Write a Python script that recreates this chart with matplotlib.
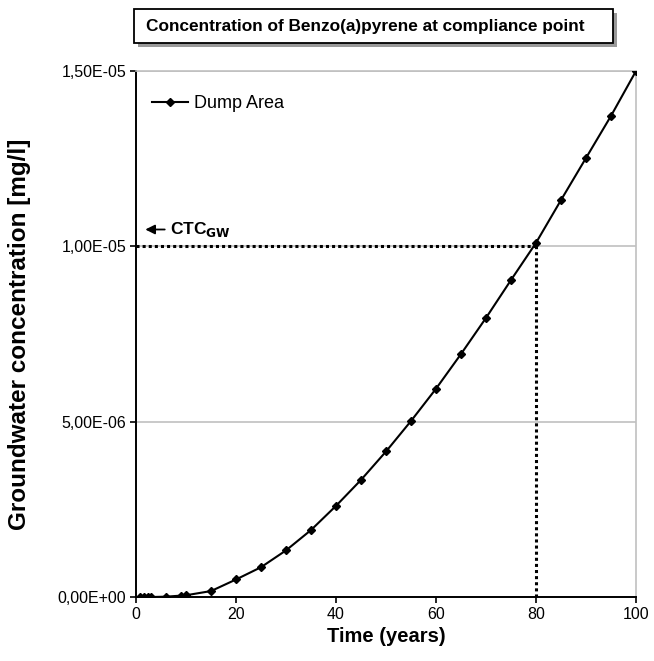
import numpy as np
import matplotlib
matplotlib.use("Agg")
import matplotlib.pyplot as plt
from matplotlib.patches import Rectangle
from matplotlib.ticker import FuncFormatter

plt.rcParams['font.family'] = ['Liberation Sans', 'DejaVu Sans']

# data
years = [0.7, 1.5, 2.3, 3.0, 6, 9, 10, 15, 20, 25, 30, 35, 40, 45, 50,
         55, 60, 65, 70, 75, 80, 85, 90, 95, 100]
conc = [0.0, 0.0, 0.0, 0.0, 0.01e-6, 0.04e-6, 0.05e-6, 0.17e-6, 0.5e-6,
        0.85e-6, 1.33e-6, 1.91e-6, 2.6e-6, 3.34e-6, 4.15e-6, 5.02e-6,
        5.94e-6, 6.93e-6, 7.96e-6, 9.04e-6, 1.01e-5, 1.132e-5, 1.252e-5,
        1.372e-5, 1.5e-5]
ctc_gw = 1.0e-5
ctc_year = 80
yticks = [0, 5e-6, 1e-5, 1.5e-5]
xticks = [0, 20, 40, 60, 80, 100]


def sci_comma(v, pos):
    m, e = ('%.2E' % v).split('E')
    return m.replace('.', ',') + 'E' + e[0] + e[1:].zfill(2)


fig = plt.figure(figsize=(6.54, 6.61), dpi=100)
ax = fig.add_axes([0.208, 0.0968, 0.7645, 0.7958])

ax.plot(years, conc, color='black', lw=1.5, marker='D', ms=4.5,
        label='Dump Area', zorder=3)

# compliance markers
ax.plot([0, ctc_year], [ctc_gw, ctc_gw], color='black', ls=(0, (1, 1)), lw=2.2, zorder=2)
ax.plot([ctc_year, ctc_year], [0, ctc_gw], color='black', ls=(0, (1, 1)), lw=2.2, zorder=2)
ax.annotate('', xy=(1.3, 1.048e-5), xytext=(6.3, 1.048e-5),
            arrowprops=dict(arrowstyle='-|>', color='black', lw=1.3,
                            mutation_scale=14))
ax.text(6.8, 1.048e-5, r'CTC$_{\mathbf{GW}}$', fontsize=12.5, fontweight='bold',
        va='center', ha='left')

ax.set_xlim(0, 100)
ax.set_ylim(0, 1.5e-5)
ax.set_xticks(xticks)
ax.set_yticks(yticks)
ax.yaxis.set_major_formatter(FuncFormatter(sci_comma))
ax.grid(axis='y', color='#c0c0c0', lw=1.2)
ax.set_axisbelow(True)
for s in ['top', 'right']:
    ax.spines[s].set_color('#c0c0c0')
    ax.spines[s].set_linewidth(1.2)
for s in ['left', 'bottom']:
    ax.spines[s].set_linewidth(1.4)
ax.tick_params(direction='out', length=4, width=1.2, labelsize=11.5, pad=3)

ax.set_xlabel('Time (years)', fontsize=14.5, fontweight='bold', labelpad=4)
ax.set_ylabel('Groundwater concentration [mg/l]', fontsize=17.5,
              fontweight='bold', labelpad=19)

ax.legend(loc='upper left', frameon=False, fontsize=13, handlelength=2.0,
          handletextpad=0.3, bbox_to_anchor=(0.0, 0.985))

# title box with shadow
W, H = 654, 661
bx0, by0, bx1, by1 = 134, 9, 613, 43
fig.patches.append(Rectangle(((bx0 + 4) / W, 1 - (by1 + 4) / H),
                             (bx1 - bx0) / W, (by1 - by0) / H,
                             transform=fig.transFigure, facecolor='#9a9a9a',
                             edgecolor='none', zorder=1))
fig.patches.append(Rectangle((bx0 / W, 1 - by1 / H), (bx1 - bx0) / W,
                             (by1 - by0) / H, transform=fig.transFigure,
                             facecolor='white', edgecolor='black', lw=1.3,
                             zorder=2))
fig.text((bx0 + 12) / W, 1 - (by0 + by1) / 2 / H,
         'Concentration of Benzo(a)pyrene at compliance point',
         fontsize=12.4, fontweight='bold', va='center', ha='left', zorder=3)

fig.savefig('out.png', dpi=100)
